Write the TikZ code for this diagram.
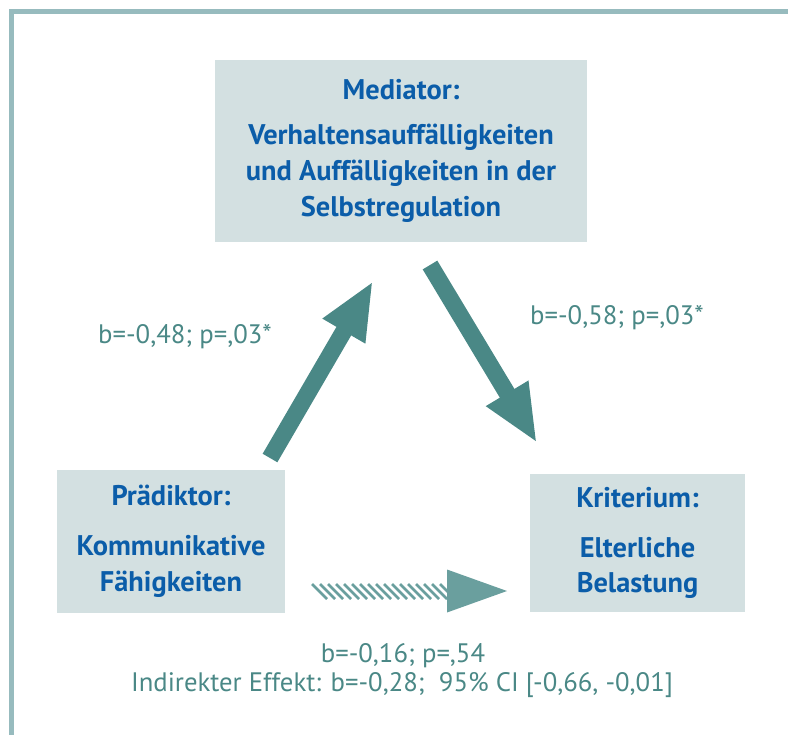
\documentclass[tikz,border=0pt]{standalone}
\usepackage{fontspec}
\setmainfont{PT Sans}
\usetikzlibrary{arrows.meta}

\definecolor{framecol}{HTML}{97BBBE}
\definecolor{boxfill}{HTML}{D3E0E1}
\definecolor{boxblue}{HTML}{0B5DA9}
\definecolor{arrowteal}{HTML}{4A8886}
\definecolor{hatchteal}{HTML}{6A9F9E}

\begin{document}
\begin{tikzpicture}[
    x=1bp, y=-1bp,
    box/.style={fill=boxfill, text=boxblue, align=center, inner sep=0pt,
      font=\bfseries\fontsize{28.5}{36}\selectfont},
    fat arrow/.style={draw=arrowteal, line width=17bp,
      -{Triangle[length=58bp,width=45bp]}},
    coef/.style={text=arrowteal, font=\fontsize{26.8}{29}\selectfont}
  ]
  \useasboundingbox (0,0) rectangle (788,735);
  \draw[framecol, line width=5bp] (11.5,735) -- (11.5,11.5) -- (788,11.5);

  % boxes
  \node[box, minimum width=372bp, minimum height=182bp] (med) at (401,151)
    {Mediator:\\[9pt] Verhaltensauffälligkeiten\\ und Auffälligkeiten in der\\ Selbstregulation};
  \node[box, minimum width=228bp, minimum height=143bp] (pred) at (171,541.5)
    {Prädiktor:\\[14pt] Kommunikative\\ Fähigkeiten};
  \node[box, minimum width=215bp, minimum height=138bp] (krit) at (637.5,543)
    {Kriterium:\\[14pt] Elterliche\\ Belastung};

  % arrow ends
  \coordinate (a-start) at (270,458);
  \coordinate (a-end) at (373,281);
  \coordinate (b-start) at (430,265);
  \coordinate (b-end) at (537,443);
  \coordinate (c-start) at (312,591);
  \coordinate (c-head) at (447,591);
  \coordinate (c-end) at (507,591);

  \draw[fat arrow] (a-start) -- (a-end);
  \draw[fat arrow] (b-start) -- (b-end);

  % hatched direct path
  \foreach \x in {312,320,...,440}
    \draw[hatchteal, line width=2.8bp] (\x,584) -- ++(15,15);
  \fill[hatchteal] ([yshift=-21.5bp]c-head) -- (c-end) -- ([yshift=21.5bp]c-head) -- cycle;

  % coefficients
  \node[coef] (coef-a) at (185,337) {b=-0,48; p=,03*};
  \node[coef] (coef-b) at (617,318) {b=-0,58; p=,03*};
  \node[coef] (coef-c) at (403,656) {b=-0,16; p=,54};
  \node[coef] (coef-ind) at (402,685) {Indirekter Effekt: b=-0,28;\ \ 95\% CI [-0,66, -0,01]};
\end{tikzpicture}
\end{document}
